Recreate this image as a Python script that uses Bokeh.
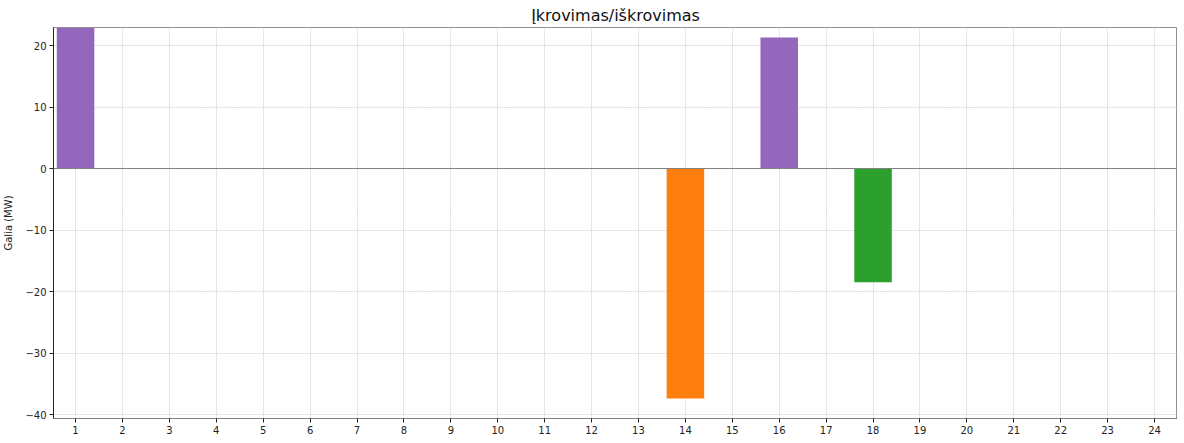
from bokeh.plotting import figure
from bokeh.models import ColumnDataSource, FixedTicker, Span, Range1d
from bokeh.embed import file_html
from bokeh.resources import INLINE

hours = list(range(1, 25))
power = [22.9, 0, 0, 0, 0, 0, 0, 0, 0, 0, 0, 0, 0, -37.4, 0, 21.3, 0, -18.5, 0, 0, 0, 0, 0, 0]
bar_colors = ["#9467bd", "#1f77b4", "#1f77b4", "#1f77b4", "#1f77b4", "#1f77b4", "#1f77b4", "#1f77b4",
              "#1f77b4", "#1f77b4", "#1f77b4", "#1f77b4", "#1f77b4", "#ff7f0e", "#1f77b4", "#9467bd",
              "#1f77b4", "#2ca02c", "#1f77b4", "#1f77b4", "#1f77b4", "#1f77b4", "#1f77b4", "#1f77b4"]
y_ticks = [-40, -30, -20, -10, 0, 10, 20]

src = ColumnDataSource(dict(x=hours, top=power, color=bar_colors))

p = figure(frame_width=1124, frame_height=391, output_backend="svg", toolbar_location=None,
           x_range=Range1d(0.53, 24.49), y_range=Range1d(-40.65, 22.93),
           title="Įkrovimas/iškrovimas",
           min_border_left=0, min_border_right=0, min_border_top=0, min_border_bottom=0)

p.vbar(x="x", top="top", bottom=0, width=0.8, color="color", source=src, line_color=None)
p.add_layout(Span(location=0, dimension="width", line_color="#808080", line_width=1))

p.title.align = "center"
p.title.text_font = "DejaVu Sans"
p.title.text_font_size = "16px"
p.title.text_font_style = "normal"
p.title.text_color = "#111111"
p.title.offset = 0
p.title.standoff = 2
p.title.padding = 2

p.xaxis.ticker = FixedTicker(ticks=hours)
p.yaxis.ticker = FixedTicker(ticks=y_ticks)
p.yaxis.major_label_overrides = {t: (str(t).replace("-", "\u2212")) for t in y_ticks}
p.yaxis.axis_label = "Galia (MW)"
p.yaxis.axis_label_text_font = "DejaVu Sans"
p.yaxis.axis_label_text_font_size = "10px"
p.yaxis.axis_label_text_font_style = "normal"
p.yaxis.axis_label_text_color = "#222222"
p.yaxis.axis_label_standoff = 8

for ax in (p.xaxis, p.yaxis):
    ax.major_label_text_font = "DejaVu Sans"
    ax.major_label_text_font_size = "10px"
    ax.major_label_text_color = "#222222"
    ax.major_tick_out = 4
    ax.major_tick_in = 0
    ax.minor_tick_out = 0
    ax.minor_tick_in = 0
    ax.major_tick_line_color = "#222222"
    ax.major_label_standoff = 3
p.xaxis.axis_line_color = "#808080"
p.yaxis.axis_line_color = "#222222"

p.outline_line_color = "#909090"
p.outline_line_width = 1
p.xgrid.grid_line_color = "#cccccc"
p.ygrid.grid_line_color = "#cccccc"
p.xgrid.grid_line_dash = "1 1"
p.ygrid.grid_line_dash = "1 1"

open("out.html", "w").write(file_html(p, INLINE))
